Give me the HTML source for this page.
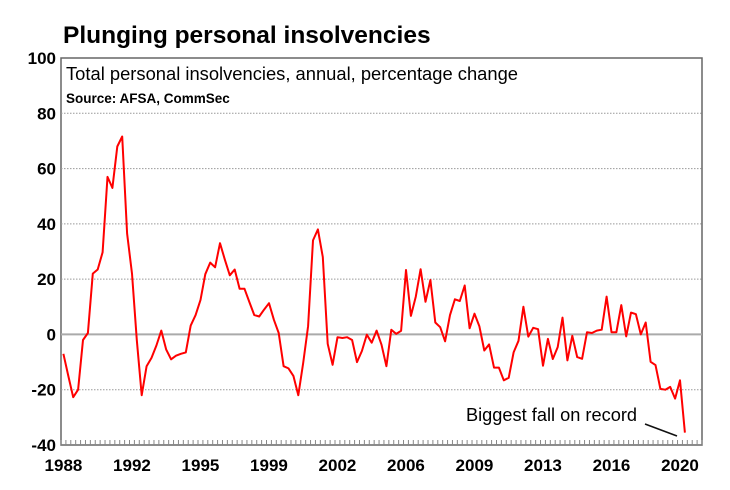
<!DOCTYPE html>
<html><head><meta charset="utf-8"><style>
body{margin:0;background:#fff;}
svg{display:block;font-family:"Liberation Sans",Arial,sans-serif;}
</style></head><body>
<svg id="chart" width="730" height="490" viewBox="0 0 730 490">
<text x="63" y="43" font-size="24.5" font-weight="bold">Plunging personal insolvencies</text>
<rect x="61" y="58" width="641" height="387" fill="none" stroke="#666" stroke-width="1.5"/>
<g id="grid"></g>
<g id="yticks"></g>
<g id="xticks"></g>
<text x="66" y="80" font-size="18" textLength="452" lengthAdjust="spacingAndGlyphs">Total personal insolvencies, annual, percentage change</text>
<text x="66" y="103" font-size="13.5" font-weight="bold">Source: AFSA, CommSec</text>
<path id="line" fill="none" stroke="#f00" stroke-width="2" stroke-linejoin="round"/>
<text x="466" y="421" font-size="18" textLength="171" lengthAdjust="spacingAndGlyphs">Biggest fall on record</text>
<line x1="645" y1="424" x2="677" y2="436" stroke="#111" stroke-width="1.6"/>
</svg>
<script>
const values=[-7,-15,-22.7,-20,-2,0.5,22,23.5,29.7,57,53,68,71.6,36.5,22,-2,-22,-11.5,-8.5,-4,1.4,-5.5,-9,-7.7,-7,-6.5,3.2,7,12.5,21.8,26,24.3,33,27,21.4,23.5,16.5,16.5,11.7,7,6.5,9,11.3,5.3,0.5,-11.5,-12.3,-15,-22,-10.3,3,34,38,28,-3.4,-11,-1,-1.3,-1,-2,-10,-6,-0.1,-3,1.4,-3.7,-11.5,1.7,0.2,1.3,23.3,6.7,13.7,23.6,11.8,19.7,4.3,2.6,-2.5,7,12.7,12.1,17.7,2.2,7.5,2.9,-5.8,-3.6,-12,-12,-16.6,-15.7,-6.5,-2.3,10,-0.8,2.4,1.9,-11.3,-1.6,-8.9,-4.6,6.1,-9.4,-0.5,-8.2,-8.8,0.8,0.5,1.4,1.7,13.7,0.8,0.8,10.6,-0.7,7.9,7.3,0,4.3,-9.9,-11.1,-19.7,-20,-19,-23.2,-16.6,-35.5];
const yTicks=[100,80,60,40,20,0,-20,-40];
const xLabels=["1988","1992","1995","1999","2002","2006","2009","2013","2016","2020"];
const labelEvery=14;
const nCat=131;
const L=61,R=702,T=58,B=445,yMin=-40,yMax=100;
const sx=i=>L+(i+0.5)*(R-L)/nCat;
const sy=v=>B-(v-yMin)/(yMax-yMin)*(B-T);
const NS="http://www.w3.org/2000/svg";
function mk(t,a,p){const e=document.createElementNS(NS,t);for(const k in a)e.setAttribute(k,a[k]);p.appendChild(e);return e;}
const grid=document.getElementById('grid'),yt=document.getElementById('yticks'),xt=document.getElementById('xticks');
yTicks.forEach(v=>{
  if(v!==yMax&&v!==yMin){
    const g=mk('line',{x1:L,x2:R,y1:sy(v),y2:sy(v),stroke:v===0?'#aaa':'#999','stroke-width':v===0?2:1,'stroke-dasharray':v===0?'':'1.5,1.5'},grid);
    
    
  }
  const t=mk('text',{x:56,y:sy(v)+6,'text-anchor':'end','font-size':17,'font-weight':'bold'},yt);
  t.textContent=v;
  
  
});
for(let i=0;i<=nCat;i++){
  const x=L+i*(R-L)/nCat;
  const m=mk('line',{x1:x,x2:x,y1:B,y2:B-5,stroke:'#888','stroke-width':1},xt);
  
  
}
xLabels.forEach((s,k)=>{
  const t=mk('text',{x:sx(k*labelEvery),y:471,'text-anchor':'middle','font-size':17,'font-weight':'bold'},xt);
  t.textContent=s;
  
  
});
document.getElementById('line').setAttribute('d',values.map((v,i)=>(i?'L':'M')+sx(i).toFixed(1)+','+sy(v).toFixed(1)).join(''));
</script>
</body></html>
